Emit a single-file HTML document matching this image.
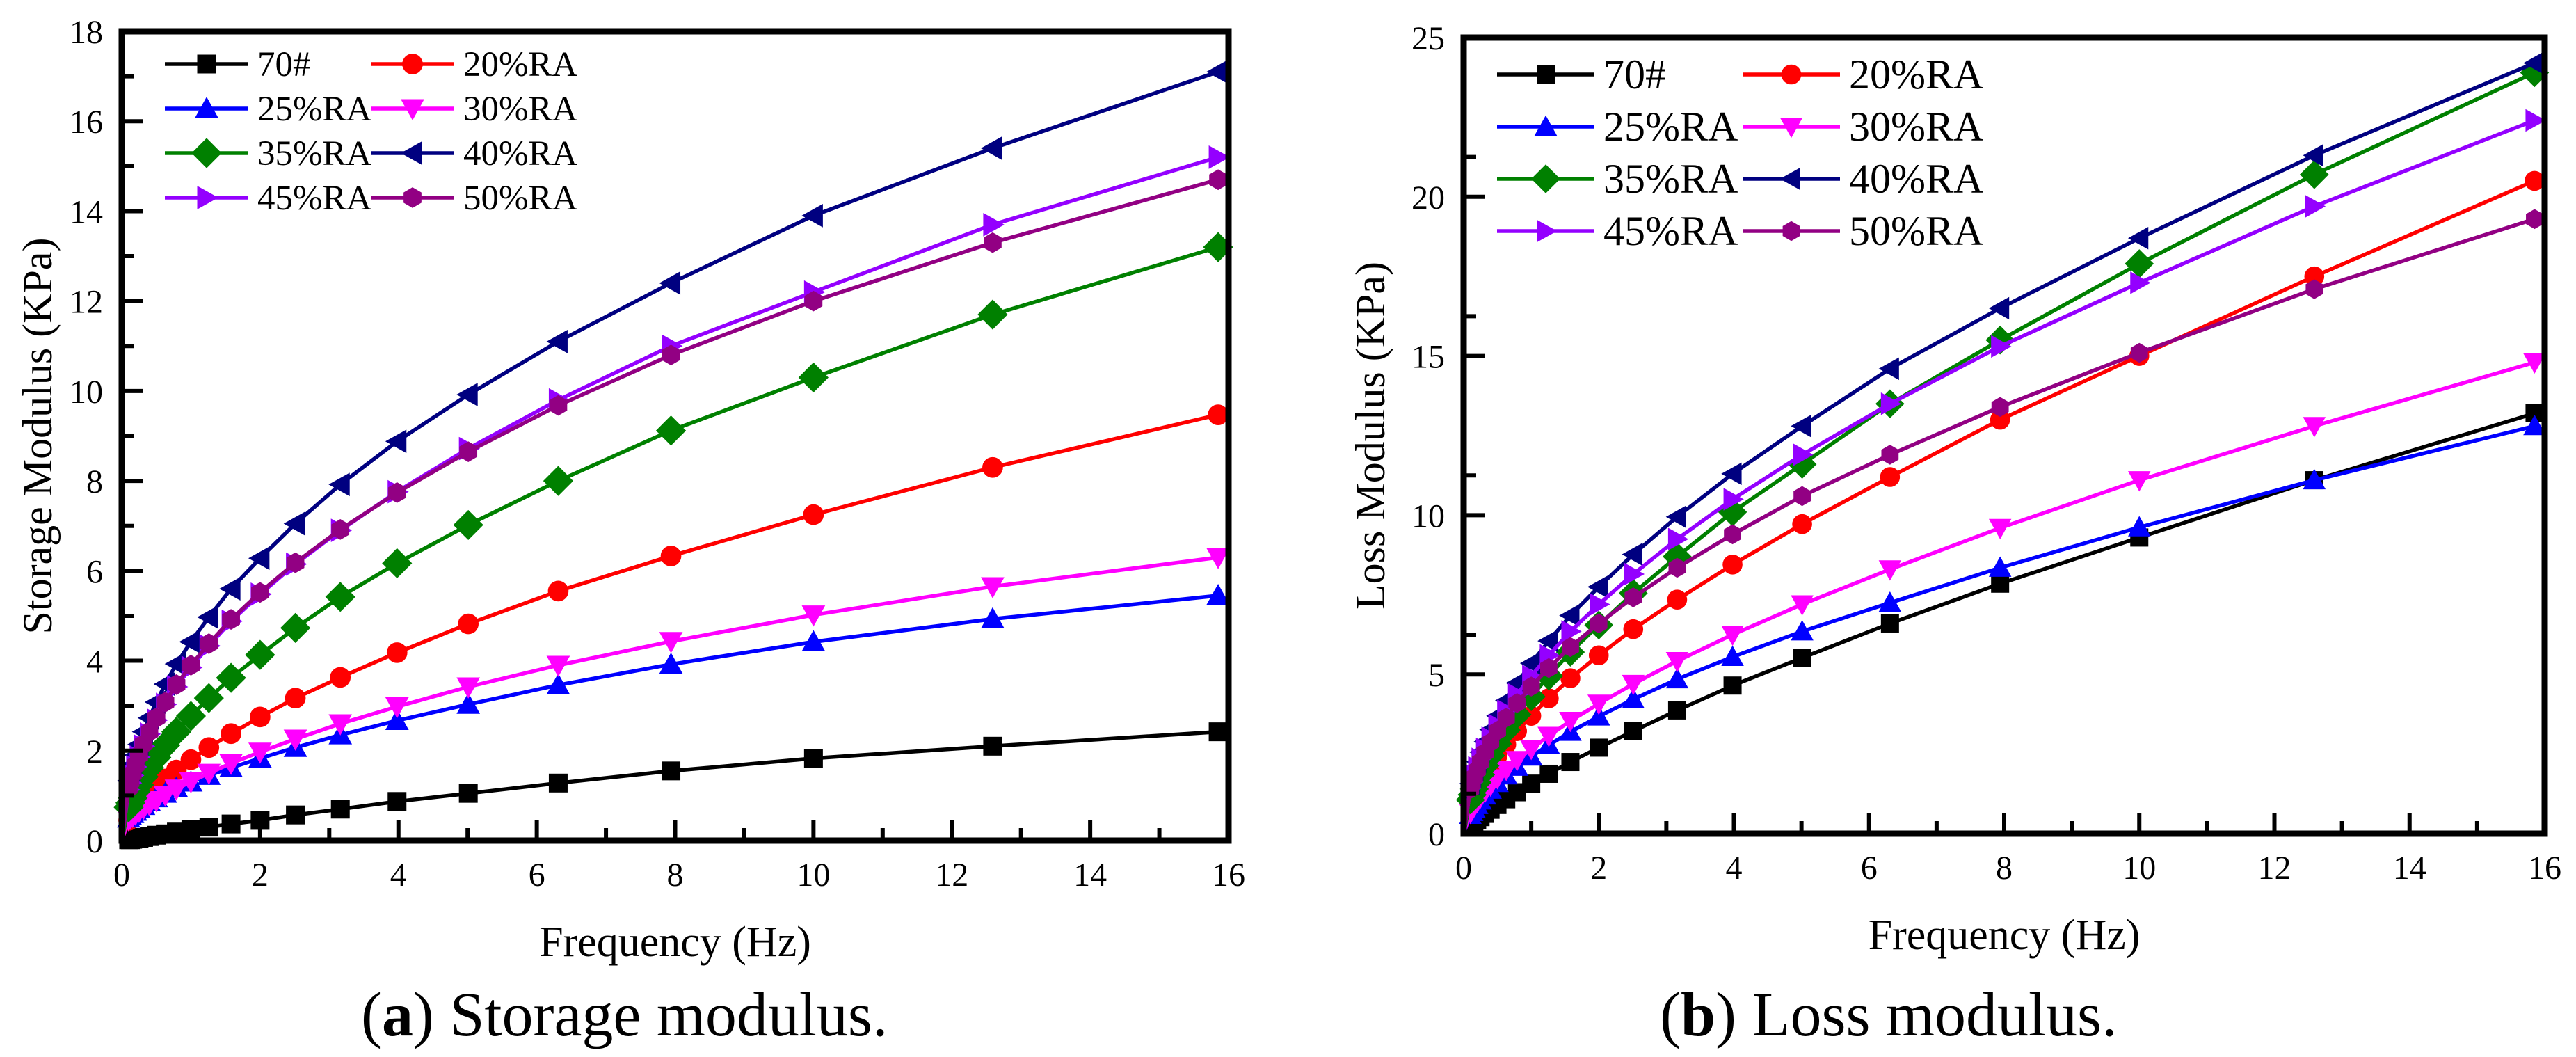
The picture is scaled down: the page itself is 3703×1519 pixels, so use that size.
<!DOCTYPE html>
<html><head><meta charset="utf-8">
<style>
html,body{margin:0;padding:0;background:#fff;}
svg{display:block;font-family:"Liberation Serif",serif;}
</style></head>
<body>
<svg id="fig" width="3703" height="1519" viewBox="0 0 3703 1519" xmlns="http://www.w3.org/2000/svg"></svg>
<script>
// ---------- data ----------
const freqs = [0, 0.1, 0.126, 0.158, 0.2, 0.25, 0.316, 0.398, 0.5, 0.63, 0.79, 1, 1.26, 1.58, 2, 2.51, 3.16, 3.98, 5.01, 6.31, 7.94, 10, 12.59, 15.85];
const seriesNames = ["70#", "20%RA", "25%RA", "30%RA", "35%RA", "40%RA", "45%RA", "50%RA"];
const storage70 = [0, 0.02,0.02,0.03,0.04,0.05,0.07,0.09,0.12,0.15,0.19,0.24,0.3,0.37,0.45,0.57,0.7,0.87,1.05,1.28,1.55,1.83,2.1,2.42];
const storage20 = [0, 0.45,0.52,0.6,0.68,0.78,0.9,1.04,1.19,1.37,1.57,1.8,2.07,2.38,2.75,3.17,3.63,4.18,4.82,5.55,6.33,7.25,8.3,9.47];
const storage25 = [0, 0.5,0.55,0.6,0.65,0.71,0.78,0.86,0.95,1.05,1.17,1.3,1.45,1.62,1.83,2.07,2.35,2.67,3.03,3.46,3.92,4.42,4.93,5.45];
const storage30 = [0, 0.46,0.5,0.54,0.59,0.65,0.72,0.8,0.89,1.01,1.15,1.31,1.5,1.72,1.97,2.26,2.6,2.98,3.42,3.9,4.43,5.02,5.65,6.3];
const storage35 = [0, 0.74,0.84,0.95,1.09,1.24,1.42,1.62,1.85,2.12,2.42,2.77,3.17,3.62,4.13,4.73,5.42,6.17,7.02,8.0,9.12,10.3,11.7,13.2];
const storage40 = [0, 1.33,1.5,1.69,1.9,2.14,2.42,2.73,3.08,3.48,3.93,4.42,4.97,5.6,6.28,7.05,7.92,8.88,9.92,11.1,12.4,13.9,15.4,17.1];
const storage45 = [0, 1.13,1.28,1.45,1.64,1.86,2.1,2.37,2.68,3.03,3.42,3.85,4.33,4.88,5.48,6.15,6.9,7.76,8.72,9.8,11.0,12.2,13.7,15.2];
const storage50 = [0, 1.17,1.32,1.49,1.68,1.9,2.15,2.42,2.73,3.08,3.47,3.9,4.38,4.92,5.52,6.18,6.92,7.74,8.65,9.68,10.8,12.0,13.3,14.7];
const loss70 = [0, 0.25,0.3,0.36,0.43,0.52,0.62,0.75,0.9,1.08,1.3,1.57,1.88,2.25,2.7,3.22,3.87,4.65,5.52,6.6,7.85,9.3,11.1,13.2];
const loss20 = [0, 0.91,1.05,1.21,1.39,1.6,1.84,2.12,2.44,2.8,3.22,3.7,4.25,4.88,5.6,6.42,7.35,8.45,9.72,11.2,13.0,15.0,17.5,20.5];
const loss25 = [0, 0.59,0.68,0.78,0.9,1.04,1.2,1.38,1.59,1.83,2.1,2.42,2.78,3.2,3.68,4.22,4.85,5.55,6.35,7.25,8.35,9.62,11.1,12.8];
const loss30 = [0, 0.65,0.75,0.86,0.99,1.14,1.31,1.51,1.74,2.0,2.31,2.66,3.07,3.54,4.08,4.7,5.42,6.25,7.2,8.3,9.6,11.1,12.8,14.8];
const loss35 = [0, 1.06,1.22,1.4,1.61,1.85,2.13,2.45,2.82,3.25,3.74,4.3,4.95,5.7,6.55,7.55,8.7,10.1,11.6,13.5,15.5,17.9,20.7,23.9];
const loss40 = [0, 1.57,1.77,2.0,2.26,2.56,2.89,3.27,3.7,4.18,4.73,5.35,6.05,6.85,7.75,8.77,9.95,11.3,12.8,14.6,16.5,18.7,21.3,24.2];
const loss45 = [0, 1.43,1.62,1.84,2.08,2.35,2.66,3.01,3.41,3.86,4.37,4.95,5.6,6.35,7.2,8.15,9.25,10.5,11.9,13.5,15.3,17.3,19.7,22.4];
const loss50 = [0, 1.4,1.58,1.78,2.0,2.26,2.55,2.87,3.23,3.64,4.1,4.62,5.2,5.86,6.6,7.42,8.35,9.4,10.6,11.9,13.4,15.1,17.1,19.3];
const xTicks = [0, 2, 4, 6, 8, 10, 12, 14, 16];
const yTicksStorage = [0, 2, 4, 6, 8, 10, 12, 14, 16, 18];
const yTicksLoss = [0, 5, 10, 15, 20, 25];

const colors = ["#000000","#ff0000","#0000ff","#ff00ff","#008000","#000080","#9400ff","#920083"];
const shapes = ["square","circle","up","down","diamond","left","right","hex"];

const NS = "http://www.w3.org/2000/svg";
const svg = document.getElementById("fig");
function mk(tag, attrs, parent){
  const e = document.createElementNS(NS, tag);
  for (const k in attrs) e.setAttribute(k, attrs[k]);
  (parent||svg).appendChild(e);
  return e;
}
function marker(shape, cx, cy, s, color, parent){
  let e;
  if (shape==="square") e = mk("rect",{x:cx-s,y:cy-s,width:2*s,height:2*s,fill:color},parent);
  else if (shape==="circle") e = mk("circle",{cx:cx,cy:cy,r:s*1.1,fill:color},parent);
  else {
    let pts;
    const k=1.25*s;
    if (shape==="up") pts=[[cx,cy-k],[cx+k,cy+k*0.8],[cx-k,cy+k*0.8]];
    else if (shape==="down") pts=[[cx,cy+k],[cx+k,cy-k*0.8],[cx-k,cy-k*0.8]];
    else if (shape==="left") pts=[[cx-k,cy],[cx+k*0.8,cy-k],[cx+k*0.8,cy+k]];
    else if (shape==="right") pts=[[cx+k,cy],[cx-k*0.8,cy-k],[cx-k*0.8,cy+k]];
    else if (shape==="diamond") { const d=1.6*s; pts=[[cx,cy-d],[cx+d,cy],[cx,cy+d],[cx-d,cy]]; }
    else { pts=[]; for(let i=0;i<6;i++){const a=Math.PI/6+i*Math.PI/3; pts.push([cx+s*1.1*Math.cos(a),cy+s*1.1*Math.sin(a)]);} }
    e = mk("polygon",{points:pts.map(p=>p.join(",")).join(" "),fill:color},parent);
  }
  return e;
}

function drawChart(cfg){
  const g = mk("g",{});
  
  
  const X = v => cfg.x0 + (v - 0) / 16 * (cfg.x1 - cfg.x0);
  const Y = v => cfg.y0 - v / cfg.ymax * (cfg.y0 - cfg.y1);
  cfg.series.forEach((vals, si) => {
    const sg = mk("g",{}, g);
    
    
    const d = vals.map((v,i)=>(i?"L":"M")+X(freqs[i]).toFixed(1)+","+Y(v).toFixed(1)).join(" ");
    mk("path",{d:d,fill:"none",stroke:colors[si],"stroke-width":5.5,"stroke-linejoin":"round"},sg);
    vals.forEach((v,i)=>{ if(i>0){ const m = marker(shapes[si], X(freqs[i]), Y(v), cfg.ms, colors[si], sg);
      
       }});
  });
  const fr = mk("rect",{x:cfg.x0,y:cfg.y1,width:cfg.x1-cfg.x0,height:cfg.y0-cfg.y1,fill:"none",stroke:"#000","stroke-width":9},g);
  
  
  xTicks.forEach((t,i)=>{
    mk("line",{x1:X(t),x2:X(t),y1:cfg.y0,y2:cfg.y0-30,stroke:"#000","stroke-width":6},g);
    if (i<xTicks.length-1) mk("line",{x1:X(t+1),x2:X(t+1),y1:cfg.y0,y2:cfg.y0-18,stroke:"#000","stroke-width":6},g);
    const tx = mk("text",{x:X(t),y:cfg.y0+65,"font-size":48,"text-anchor":"middle"},g);
    tx.textContent = t;
    
    
  });
  cfg.yTicks.forEach((t,i)=>{
    mk("line",{x1:cfg.x0,x2:cfg.x0+30,y1:Y(t),y2:Y(t),stroke:"#000","stroke-width":6},g);
    if (i<cfg.yTicks.length-1) { const m=t+cfg.ystep/2; mk("line",{x1:cfg.x0,x2:cfg.x0+18,y1:Y(m),y2:Y(m),stroke:"#000","stroke-width":6},g); }
    const ty = mk("text",{x:cfg.x0-27,y:Y(t)+17,"font-size":48,"text-anchor":"end"},g);
    ty.textContent = t;
    
    
  });
  const xt = mk("text",{x:(cfg.x0+cfg.x1)/2,y:cfg.y0+166,"font-size":62,"text-anchor":"middle"},g);
  xt.textContent = "Frequency (Hz)";
  
  
  const yt = mk("text",{x:0,y:0,"font-size":60,"text-anchor":"middle",transform:`translate(${cfg.ytx},${(cfg.y0+cfg.y1)/2}) rotate(-90)`},g);
  yt.textContent = cfg.ytitle;
  
  
  const lg = mk("g",{},g);
  
  
  seriesNames.forEach((n,si)=>{
    const col = si%2, row = Math.floor(si/2);
    const L = cfg.leg;
    const lx = L.cols[col], ly = L.y + row*L.dy;
    const eg = mk("g",{},lg);
    
    
    mk("line",{x1:lx,x2:lx+L.w,y1:ly,y2:ly,stroke:colors[si],"stroke-width":5.5},eg);
    marker(shapes[si], lx+L.w/2, ly, cfg.ms, colors[si], eg);
    const t = mk("text",{x:lx+L.w+13,y:ly+L.fs*0.33,"font-size":L.fs},eg);
    t.textContent = n;
  });
  const cap = mk("text",{x:cfg.capx,y:1488,"font-size":90},g);
  
  
  const b = document.createElementNS(NS,"tspan"); b.textContent="(";
  cap.appendChild(b);
  const bb = document.createElementNS(NS,"tspan"); bb.setAttribute("font-weight","bold"); bb.textContent=cfg.capLetter;
  cap.appendChild(bb);
  const r = document.createElementNS(NS,"tspan"); r.textContent=") "+cfg.capText;
  cap.appendChild(r);
}

drawChart({name:"storage-modulus-chart", x0:175, x1:1766, y0:1208, y1:45, ymax:18, ystep:2,
  yTicks:yTicksStorage, ytitle:"Storage Modulus (KPa)", ytx:74, ms:13.5,
  series:[storage70,storage20,storage25,storage30,storage35,storage40,storage45,storage50],
  leg:{cols:[237,533], y:92, dy:64, w:120, fs:51},
  capx:519, capLetter:"a", capText:"Storage modulus."});
drawChart({name:"loss-modulus-chart", x0:2104, x1:3658, y0:1198, y1:54, ymax:25, ystep:2.5,
  yTicks:yTicksLoss, ytitle:"Loss Modulus (KPa)", ytx:1990, ms:13,
  series:[loss70,loss20,loss25,loss30,loss35,loss40,loss45,loss50],
  leg:{cols:[2152,2505], y:107, dy:75, w:140, fs:60},
  capx:2386, capLetter:"b", capText:"Loss modulus."});
</script>
</body></html>
